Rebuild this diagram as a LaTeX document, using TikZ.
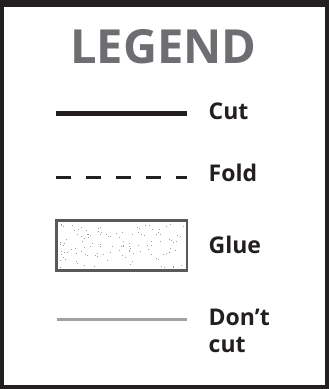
\documentclass[tikz,border=0pt]{standalone}
\usepackage{fontspec}
\setmainfont{Open Sans}
\definecolor{frameblack}{HTML}{231F20}
\definecolor{legendgray}{HTML}{6D6E71}
\definecolor{dontgray}{HTML}{A0A1A4}
\definecolor{gluegray}{HTML}{58595B}
\definecolor{dotgray}{HTML}{9C9DA0}
\begin{document}
\begin{tikzpicture}[x=1pt,y=-1pt,
  label/.style={anchor=base west,inner sep=0pt,font=\fontsize{23}{27.7}\selectfont\bfseries,text=frameblack},
  cutline/.style={line width=5.5pt,frameblack},
  foldline/.style={line width=3pt,frameblack,dash pattern=on 15pt off 15pt},
  dontline/.style={line width=3pt,dontgray},
  gluebox/.style={draw=gluegray,line width=1.6pt,fill=white}]
\useasboundingbox (0,0) rectangle (329,389);
% frame
\fill[frameblack] (0,0) rectangle (329,389);
\fill[white] (4,6.5) rectangle (324.5,385);
% title
\node[anchor=base,inner sep=0pt,font=\fontsize{47}{55}\selectfont\bfseries,text=legendgray] (title) at (163.5,63.3) {LEGEND};
% cut
\node[label] (cut) at (208.5,119.3) {Cut};
\coordinate (cutA) at (56,113.7);
\coordinate (cutB) at (187,113.7);
\draw[cutline] (cutA) -- (cutB);
% fold
\node[label] (fold) at (208.5,181.7) {Fold};
\coordinate (foldA) at (56,177.3);
\coordinate (foldB) at (187,177.3);
\draw[foldline] (foldA) -- (foldB);
% glue
\node[label] (glue) at (208.5,253.3) {Glue};
\node[gluebox,minimum width=130pt,minimum height=49pt,inner sep=0pt] (gluerect) at (121.7,245.5) {};
\pgfmathsetseed{11}
\foreach \i in {1,...,120}{
  \fill[dotgray] ({59+rnd*125},{224+rnd*43}) rectangle ++(0.9,0.9);
}
\draw[gluegray,line width=1.6pt] (gluerect.north west) rectangle (gluerect.south east);
% don't cut
\node[label,align=left] (dont) at (208.5,352.7) {Don’t\\cut};
\coordinate (dontA) at (56.7,319);
\coordinate (dontB) at (186.7,319);
\draw[dontline] (dontA) -- (dontB);
\end{tikzpicture}
\end{document}
